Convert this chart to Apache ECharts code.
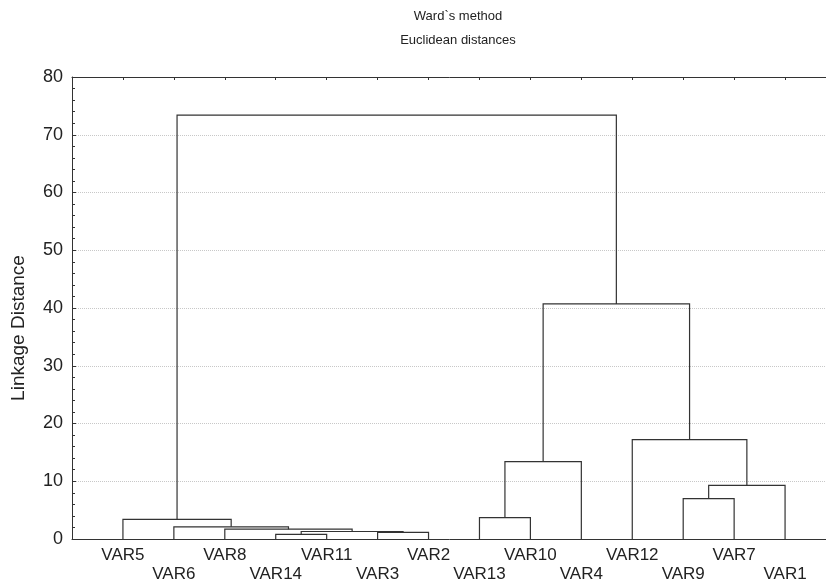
<!DOCTYPE html>
<html>
<head>
<meta charset="utf-8">
<title>Ward`s method dendrogram</title>
<script src="https://cdn.jsdelivr.net/npm/echarts@6/dist/echarts.min.js"></script>
<style>
  html, body { margin: 0; padding: 0; background: #fff; }
  #chart { width: 826px; height: 582px; }
</style>
</head>
<body>
<div id="chart"></div>
<script>
// leaf order along the x axis
const leaves = ['VAR5', 'VAR6', 'VAR8', 'VAR14', 'VAR11', 'VAR3', 'VAR2',
  'VAR13', 'VAR10', 'VAR4', 'VAR12', 'VAR9', 'VAR7', 'VAR1'];

// merges, in the order they happen (children are leaves or earlier merges)
const mergeIds    = ['E', 'F', 'D', 'C', 'B', 'A', 'G', 'I', 'J', 'H', 'K', 'L', 'M'];
const mergeLeft   = ['VAR14', 'VAR3', 'E', 'VAR8', 'VAR6', 'VAR5', 'VAR13', 'VAR9', 'I', 'G', 'VAR12', 'H', 'A'];
const mergeRight  = ['VAR11', 'VAR2', 'F', 'D', 'C', 'B', 'VAR10', 'VAR7', 'VAR1', 'VAR4', 'J', 'K', 'L'];
const mergeHeight = [0.8, 1.15, 1.3, 1.7, 2.1, 3.4, 3.7, 7.0, 9.3, 13.4, 17.2, 40.7, 73.4];

const yTicks = [0, 10, 20, 30, 40, 50, 60, 70, 80];

// position (x) and height (y) of every node
const nodeX = {};
const nodeY = {};
leaves.forEach(function (name, i) {
  nodeX[name] = i + 1;
  nodeY[name] = 0;
});
const links = [];
mergeIds.forEach(function (id, i) {
  const l = mergeLeft[i];
  const r = mergeRight[i];
  const h = mergeHeight[i];
  links.push([nodeX[l], nodeY[l], nodeX[r], nodeY[r], h]);
  nodeX[id] = (nodeX[l] + nodeX[r]) / 2;
  nodeY[id] = h;
});

const textColor = '#222';
const lineColor = '#333';
const font = "'Liberation Sans', Arial, sans-serif";

let chart = echarts.init(document.getElementById('chart'));
let option = {
  animation: false,
  title: {
    text: 'Ward`s method',
    subtext: 'Euclidean distances',
    left: 453,
    top: 5,
    textAlign: 'center',
    itemGap: 11,
    textStyle: { color: textColor, fontSize: 13, fontWeight: 'normal', fontFamily: font },
    subtextStyle: { color: textColor, fontSize: 13, fontFamily: font }
  },
  // plot runs past the right edge of the picture, like the reference
  grid: { left: 72, top: 77, bottom: 43, right: -10, outerBoundsMode: 'none', containLabel: false },
  xAxis: [
    {
      type: 'value',
      position: 'bottom',
      min: 0,
      max: 15,
      interval: 1,
      axisLine: { show: true, lineStyle: { color: lineColor, width: 1 } },
      axisTick: { show: false },
      splitLine: { show: false },
      axisLabel: {
        margin: 7,
        color: textColor,
        fontSize: 17,
        lineHeight: 19,
        fontFamily: font,
        formatter: function (v) {
          const i = Math.round(v) - 1;
          if (i < 0 || i >= leaves.length) return '';
          return i % 2 === 0 ? leaves[i] : '\n' + leaves[i];
        }
      }
    },
    {
      type: 'value',
      position: 'top',
      min: 0,
      max: 15,
      interval: 1,
      axisLine: { show: true, lineStyle: { color: lineColor, width: 1 } },
      axisTick: { show: true, inside: true, length: 3, lineStyle: { color: lineColor } },
      axisLabel: { show: false },
      splitLine: { show: false }
    }
  ],
  yAxis: {
    type: 'value',
    min: yTicks[0],
    max: yTicks[yTicks.length - 1],
    interval: 10,
    name: 'Linkage Distance',
    nameLocation: 'middle',
    nameGap: 44,
    nameTextStyle: { color: textColor, fontSize: 19, fontFamily: font, padding: [0, 40, 0, 0] },
    axisLine: { show: true, lineStyle: { color: lineColor, width: 1 } },
    axisTick: { show: true, inside: true, length: 4, lineStyle: { color: lineColor } },
    minorTick: { show: true, splitNumber: 5, length: 3, lineStyle: { color: lineColor } },
    axisLabel: { margin: 9, color: textColor, fontSize: 18, fontFamily: font },
    splitLine: { show: true, lineStyle: { color: '#c8c8c8', type: 'dotted', width: 1 } }
  },
  series: [
    {
      type: 'custom',
      data: links,
      renderItem: function (params, api) {
        const p1 = api.coord([api.value(0), api.value(1)]);
        const p2 = api.coord([api.value(0), api.value(4)]);
        const p3 = api.coord([api.value(2), api.value(4)]);
        const p4 = api.coord([api.value(2), api.value(3)]);
        return {
          type: 'polyline',
          shape: { points: [p1, p2, p3, p4] },
          style: { stroke: lineColor, lineWidth: 1.2, fill: null }
        };
      }
    }
  ]
};
chart.setOption(option);
</script>
</body>
</html>
